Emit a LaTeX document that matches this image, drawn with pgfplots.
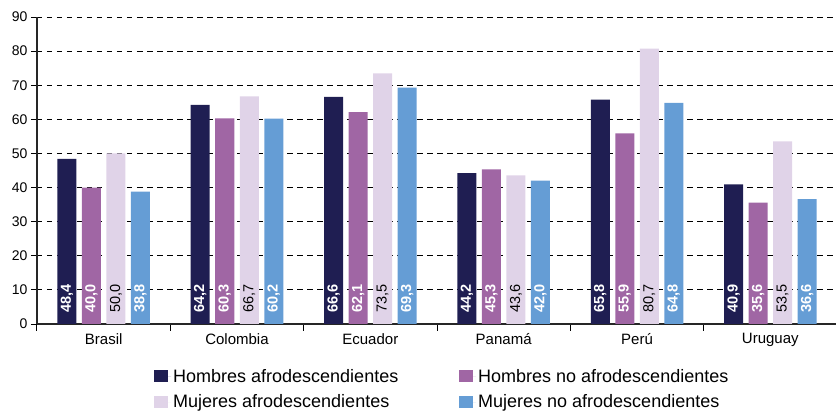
\documentclass[border=0pt]{standalone}
\usepackage{pgfplots}
\pgfplotsset{compat=1.18}
\usepackage{fontspec}
\setmainfont{Liberation Sans}

\definecolor{cNavy}{RGB}{31,30,82}
\definecolor{cPurple}{RGB}{160,102,164}
\definecolor{cLav}{RGB}{224,211,232}
\definecolor{cBlue}{RGB}{101,157,213}

\newcommand{\entry}[1]{\makebox[284pt][l]{#1}}

\begin{document}
\begin{tikzpicture}
\begin{axis}[
  scale only axis,
  width=800pt, height=307pt,
  ymin=0, ymax=90,
  ytick={0,10,...,90},
  xmin=-0.5, xmax=5.5,
  xtick={0,1,2,3,4,5},
  xticklabels={Brasil,Colombia,Ecuador,Panamá,Perú,Uruguay},
  minor xtick={-0.5,0.5,1.5,2.5,3.5,4.5,5.5},
  major x tick style={draw=none},
  minor x tick style={black, line width=1pt},
  minor tick length=7pt,
  major tick length=6pt,
  y tick style={black, line width=0.8pt},
  tick align=outside,
  axis x line*=bottom,
  axis y line*=left,
  axis line style={black!85, line width=1.2pt},
  ymajorgrids,
  major grid style={black, line width=0.9pt, dash pattern=on 5.5pt off 4.5pt},
  xticklabel style={font=\fontsize{15}{18}\selectfont},
  yticklabel style={font=\fontsize{14}{17}\selectfont},
  /pgf/number format/assume math mode=true,
  ybar=5.5pt,
  bar width=19pt,
  visualization depends on={y \as \rawy},
  nodes near coords={\pgfmathprintnumber[fixed,fixed zerofill,precision=1,use comma]{\pgfplotspointmeta}},
  every node near coord/.append style={
    shift={(axis direction cs:0,3.2-\rawy)},
    rotate=90, anchor=west, inner sep=0pt,
    font=\fontsize{14.5}{17}\selectfont\bfseries, text=white,
  },
  legend columns=2,
  legend style={
    draw=none, fill=none,
    at={(axis cs:-0.5,0)}, anchor=north west,
    xshift=114pt, yshift=-41pt,
    font=\fontsize{18}{21}\selectfont,
    row sep=7pt,
    /tikz/every odd column/.style={column sep=0pt},
  },
  legend image code/.code={\fill[#1,draw=none] (0pt,-6pt) rectangle (14pt,6pt); \path (0pt,0pt) -- (17pt,0pt);},
  legend cell align=left,
]
\addplot[fill=cNavy, draw=none] coordinates {(0,48.4) (1,64.2) (2,66.6) (3,44.2) (4,65.8) (5,40.9)};
\addplot[fill=cPurple, draw=none] coordinates {(0,40.0) (1,60.3) (2,62.1) (3,45.3) (4,55.9) (5,35.6)};
\addplot[fill=cLav, draw=none, every node near coord/.append style={text=black, font=\fontsize{14.5}{17}\selectfont\mdseries}] coordinates {(0,50.0) (1,66.7) (2,73.5) (3,43.6) (4,80.7) (5,53.5)};
\addplot[fill=cBlue, draw=none] coordinates {(0,38.8) (1,60.2) (2,69.3) (3,42.0) (4,64.8) (5,36.6)};
\legend{\entry{Hombres afrodescendientes}, \entry{Hombres no afrodescendientes}, \entry{Mujeres afrodescendientes}, \entry{Mujeres no afrodescendientes}}
\end{axis}
\pgfresetboundingbox
\path[use as bounding box] (-37pt,-87pt) rectangle (799pt,324pt);
\end{tikzpicture}
\end{document}
